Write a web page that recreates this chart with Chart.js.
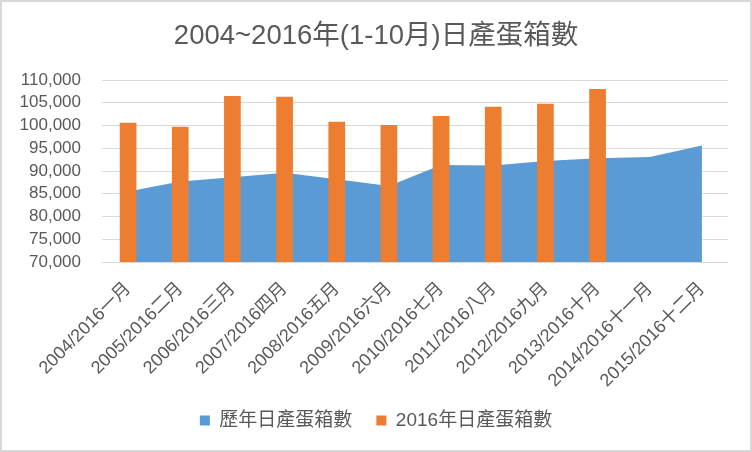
<!DOCTYPE html>
<html><head><meta charset="utf-8">
<script src="https://cdn.jsdelivr.net/npm/chart.js@4/dist/chart.umd.min.js"></script>
<style>
html,body{margin:0;padding:0;background:#fff;}
#wrap{position:relative;width:752px;height:452px;box-sizing:border-box;border:2px solid #d9d9d9;background:#fff;}
canvas{display:block;}
</style></head><body>
<div id="wrap"><canvas id="c" width="748" height="448"></canvas></div>
<script>
const categories = ['2004/2016一月','2005/2016二月','2006/2016三月','2007/2016四月','2008/2016五月','2009/2016六月','2010/2016七月','2011/2016八月','2012/2016九月','2013/2016十月','2014/2016十一月','2015/2016十二月'];
const historicalEggs = [85500, 87700, 88600, 89600, 88200, 86700, 91300, 91200, 92200, 92800, 93100, 95600];
const eggs2016 = [100600, 99700, 106500, 106300, 100800, 100100, 102100, 104100, 104800, 108000];
const yMin = 70000, yMax = 110000, yStep = 5000;
const seriesNames = ['歷年日產蛋箱數', '2016年日產蛋箱數'];
const titleText = '2004~2016年(1-10月)日產蛋箱數';

const FONT = "'Liberation Sans', 'Noto Sans CJK TC', sans-serif";
const TXT = '#595959';

new Chart(document.getElementById('c'), {
  data: {
    labels: categories,
    datasets: [
      {type:'line', label: seriesNames[0], data: historicalEggs, backgroundColor:'#5B9BD5', borderColor:'#5B9BD5', borderWidth:0, pointRadius:0, pointHoverRadius:0, fill:'start', tension:0, order:2},
      {type:'bar', label: seriesNames[1], data: eggs2016, backgroundColor:'#ED7D31', borderWidth:0, barPercentage:0.32, categoryPercentage:1, order:1}
    ]
  },
  options: {
    responsive:false, animation:false,
    layout:{padding:{left:0,right:0,top:0,bottom:10}},
    scales:{
      x:{type:'category', offset:true, grid:{display:false, drawTicks:false}, border:{display:false},
         ticks:{color:TXT, font:{size:18, family:FONT}, minRotation:45, maxRotation:45, autoSkip:false, padding:16},
         afterFit:s=>{s.height=125;}},
      y:{type:'linear', position:'left', min:yMin, max:yMax,
         ticks:{stepSize:yStep, autoSkip:false, color:TXT, font:{size:17, family:FONT}, padding:21, callback:v=>v.toLocaleString('en-US')},
         grid:{color:'#d9d9d9', lineWidth:1, drawTicks:false}, border:{display:false},
         afterFit:s=>{s.width=100;}},
      y2:{type:'linear', position:'right', display:true, grid:{display:false, drawTicks:false}, ticks:{display:false}, border:{display:false},
         afterFit:s=>{s.width=22;}}
    },
    plugins:{
      title:{display:true, text:titleText, color:TXT, font:{size:27.5, weight:'normal', family:FONT}, padding:{top:18, bottom:27}},
      legend:{position:'bottom', labels:{boxWidth:10, boxHeight:10, color:TXT, font:{size:19, family:FONT}, padding:24, sort:(a,b)=>a.datasetIndex-b.datasetIndex}},
      tooltip:{enabled:false}
    }
  }
});
</script>
</body></html>
